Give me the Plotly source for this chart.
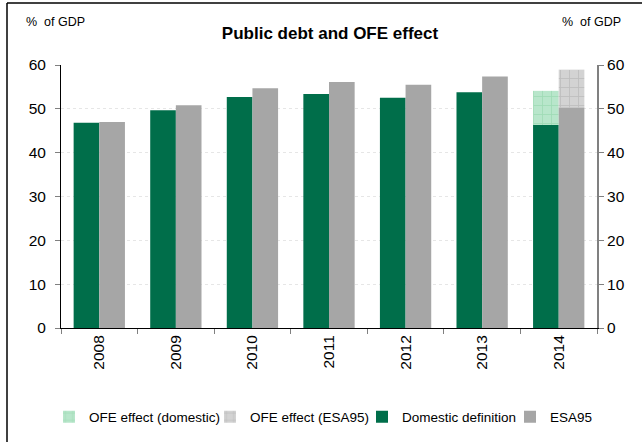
import plotly.graph_objects as go

years = ["2008", "2009", "2010", "2011", "2012", "2013", "2014"]
domestic = [46.8, 49.7, 52.7, 53.4, 52.5, 53.8, 46.3]
esa95 = [47.0, 50.8, 54.7, 56.1, 55.5, 57.4, 50.3]
ofe_domestic = [None, None, None, None, None, None, 7.8]
ofe_esa95 = [None, None, None, None, None, None, 8.6]

DARK_GREEN = "#006E4A"
GRAY = "#A6A6A6"

fig = go.Figure()
fig.add_trace(go.Bar(
    x=years, y=ofe_domestic, base=domestic, name="OFE effect (domestic)",
    offsetgroup="dom", legend="legend",
    marker=dict(color="#B8E6CB", line=dict(width=0),
                pattern=dict(shape="+", size=9, solidity=0.18, fgcolor="#86CFA0", bgcolor="#B8E6CB")),
))
fig.add_trace(go.Bar(
    x=years, y=ofe_esa95, base=esa95, name="OFE effect (ESA95)",
    offsetgroup="esa", legend="legend2",
    marker=dict(color="#D3D3D3", line=dict(width=0),
                pattern=dict(shape="+", size=9, solidity=0.18, fgcolor="#A8A8A8", bgcolor="#D3D3D3")),
))
fig.add_trace(go.Bar(
    x=years, y=domestic, name="Domestic definition", offsetgroup="dom", legend="legend3",
    marker=dict(color=DARK_GREEN, line=dict(width=0)),
))
fig.add_trace(go.Bar(
    x=years, y=esa95, name="ESA95", offsetgroup="esa", legend="legend4",
    marker=dict(color=GRAY, line=dict(width=0)),
))
# invisible trace to anchor the right axis
fig.add_trace(go.Scatter(x=years, y=esa95, yaxis="y2", mode="markers",
                         marker=dict(opacity=0), showlegend=False, hoverinfo="skip"))

font_family = "Liberation Sans, Arial, sans-serif"


def legend_at(text_start_px):
    return dict(orientation="h", xref="container", yref="container",
                x=(text_start_px - 40) / 642, xanchor="left",
                y=1 - 417 / 442, yanchor="middle",
                font=dict(size=13.5), itemwidth=30, bgcolor="rgba(0,0,0,0)")


fig.update_layout(
    width=642, height=442,
    margin=dict(l=61, r=45, t=65, b=114, autoexpand=False),
    paper_bgcolor="white", plot_bgcolor="white",
    barmode="group", bargap=0.33, bargroupgap=0,
    font=dict(family=font_family, size=14, color="black"),
    showlegend=True,
    legend=legend_at(89),
    legend2=legend_at(250),
    legend3=legend_at(402),
    legend4=legend_at(550),
    xaxis=dict(type="category", showline=True, linecolor="black", linewidth=1,
               ticks="outside", tickson="boundaries", ticklen=5, tickcolor="#808080",
               tickangle=-90, tickfont=dict(size=15.5), showgrid=False, fixedrange=True),
    yaxis=dict(range=[0, 60], dtick=10, showline=True, linecolor="black", linewidth=1,
               ticks="outside", ticklen=5, tickcolor="#808080", ticklabelstandoff=6,
               showgrid=True, gridcolor="#E6E6E6", griddash="dot", gridwidth=1,
               zeroline=False, tickfont=dict(size=15.5)),
    yaxis2=dict(range=[0, 60], dtick=10, overlaying="y", side="right", showline=True,
                linecolor="#808080", linewidth=2, ticks="outside", ticklen=5,
                tickcolor="#808080", showgrid=False, zeroline=False, tickfont=dict(size=15.5)),
    title=dict(text="<b>Public debt and OFE effect</b>", x=330 / 642, xanchor="center",
               xref="container", y=1 - 33 / 442, yanchor="middle",
               font=dict(size=17, color="black")),
    annotations=[
        dict(text="% &nbsp;of GDP", xref="paper", yref="paper", x=(55 - 61) / 536,
             y=1 + 43 / 263, xanchor="center", yanchor="middle", showarrow=False,
             font=dict(size=12.5)),
        dict(text="% &nbsp;of GDP", xref="paper", yref="paper", x=(591 - 61) / 536,
             y=1 + 43 / 263, xanchor="center", yanchor="middle", showarrow=False,
             font=dict(size=12.5)),
    ],
    shapes=[
        dict(type="line", xref="paper", yref="paper", x0=-54 / 536, x1=1.2,
             y0=1 + 62 / 263, y1=1 + 62 / 263, line=dict(color="black", width=1.5)),
        dict(type="line", xref="paper", yref="paper", x0=-54 / 536, x1=-54 / 536,
             y0=1 + 62 / 263, y1=-0.5, line=dict(color="black", width=1.5)),
    ],
)

fig.write_html("out.html")
